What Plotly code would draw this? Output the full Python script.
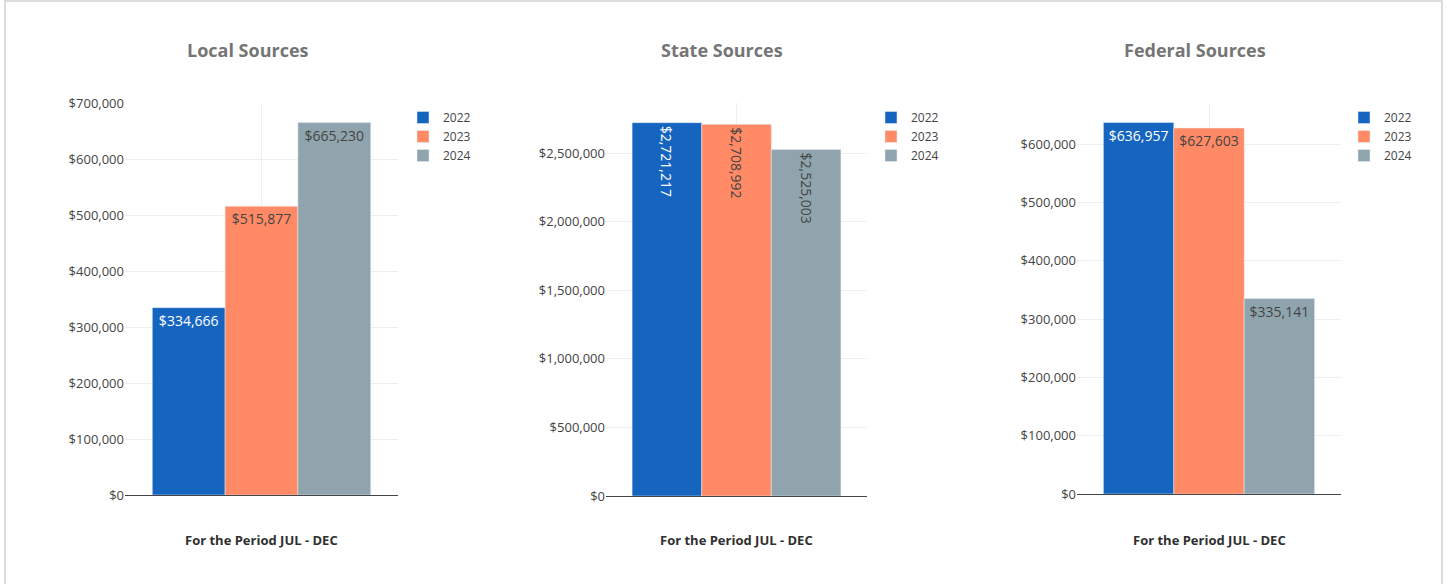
import plotly.graph_objects as go

# Revenue by source, July–December of each fiscal year
years = ["2022", "2023", "2024"]
period = ["For the Period JUL - DEC"]
local_values = [334666, 515877, 665230]
state_values = [2721217, 2708992, 2525003]
federal_values = [636957, 627603, 335141]
panel_titles = ["Local Sources", "State Sources", "Federal Sources"]
year_colors = ["#1565C0", "#FF8A65", "#90A4AE"]

W, H = 1453, 584


def px_x(v):
    return v / W


def px_y(v):
    return 1 - v / H


# pixel boxes of each panel: (left, right, top, bottom), legend left, title centre x
panels = [
    dict(values=local_values, box=(125, 398, 103, 495), legend_x=403, title_x=248),
    dict(values=state_values, box=(606, 867, 103, 496), legend_x=871, title_x=722),
    dict(values=federal_values, box=(1077, 1341, 103, 494), legend_x=1344, title_x=1195),
]

fig = go.Figure()
layout = dict(
    width=W,
    height=H,
    autosize=False,
    margin=dict(l=0, r=0, t=0, b=0, pad=0, autoexpand=False),
    paper_bgcolor="white",
    plot_bgcolor="white",
    font=dict(family="Open Sans", size=12, color="#444"),
    barmode="group",
    bargap=0.2,
    bargroupgap=0,
    annotations=[],
    shapes=[
        dict(type="rect", xref="paper", yref="paper",
             x0=px_x(5), x1=px_x(1442), y0=px_y(1), y1=px_y(620),
             line=dict(color="#dcdcdc", width=2), fillcolor="rgba(0,0,0,0)", layer="below")
    ],
)

for i, p in enumerate(panels):
    n = "" if i == 0 else str(i + 1)
    xa, ya, lg = "x" + n, "y" + n, "legend" + n
    left, right, top, bottom = p["box"]
    for yr, val, col in zip(years, p["values"], year_colors):
        fig.add_trace(go.Bar(
            x=period, y=[val], name=yr,
            marker=dict(color=col, line=dict(color="#E5ECF6", width=0.5)),
            text=[f"${val:,.0f}"], textposition="inside", insidetextanchor="end",
            textfont=dict(size=14),
            xaxis=xa, yaxis=ya, legend=lg,
        ))
    layout["xaxis" + n] = dict(
        domain=[px_x(left), px_x(right)], anchor=ya, automargin=False,
        showticklabels=False, showgrid=True, gridcolor="#eeeeee", ticks="",
        range=[-0.5, 0.5], zeroline=False,
    )
    layout["yaxis" + n] = dict(
        domain=[px_y(bottom), px_y(top)], anchor=xa, automargin=False,
        tickprefix="$", tickformat=",", showgrid=True, gridcolor="#eeeeee",
        zeroline=True, zerolinecolor="#444", zerolinewidth=1,
        tickfont=dict(size=13, color="#444"),
    )
    layout[lg] = dict(
        x=px_x(p["legend_x"]), y=px_y(103), xanchor="left", yanchor="top",
        font=dict(size=12, color="#444"), bgcolor="rgba(0,0,0,0)",
    )
    layout["annotations"].append(dict(
        text=f"<b>{panel_titles[i]}</b>", xref="paper", yref="paper",
        x=px_x(p["title_x"]), y=px_y(50), xanchor="center", yanchor="middle",
        showarrow=False, font=dict(size=18, color="#757575"),
    ))
    layout["annotations"].append(dict(
        text=f"<b>{period[0]}</b>", xref="paper", yref="paper",
        x=px_x((left + right) / 2), y=px_y(540), xanchor="center", yanchor="middle",
        showarrow=False, font=dict(size=13, color="#2f2f2f"),
    ))

fig.update_layout(**layout)
fig.write_html(
    "out.html",
    post_script="document.body.style.margin='0';document.body.style.overflow='hidden';",
)
